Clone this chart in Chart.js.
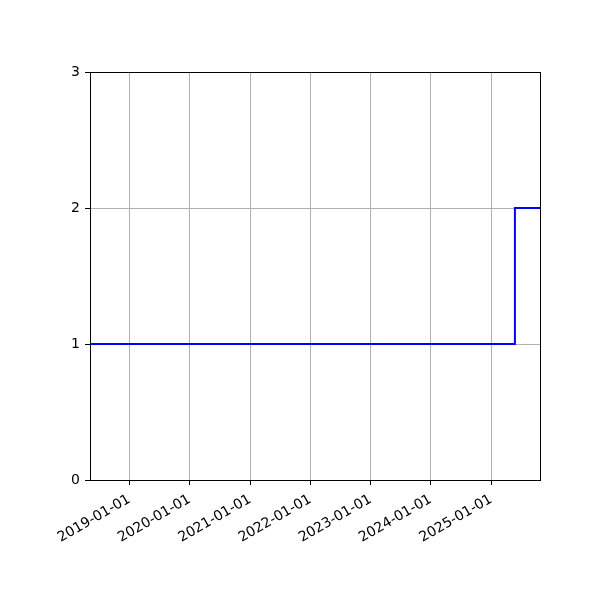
<!DOCTYPE html>
<html>
<head>
<meta charset="utf-8">
<script src="https://cdn.jsdelivr.net/npm/chart.js@4"></script>
<style>
  html, body { margin: 0; padding: 0; background: #fff; }
  #wrap { width: 600px; height: 600px; }
</style>
</head>
<body>
<div id="wrap"><canvas id="c"></canvas></div>
<script>
// step series
const stepDates = ['2018-05-07', '2025-05-25', '2025-10-24'];
const stepValues = [1, 2, 2];
const xTickDates = ['2019-01-01', '2020-01-01', '2021-01-01', '2022-01-01', '2023-01-01', '2024-01-01', '2025-01-01'];
const yTicks = [0, 1, 2, 3];

const toMs = s => Date.parse(s + 'T00:00:00Z');
const fmt = v => new Date(v).toISOString().slice(0, 10);

const points = stepDates.map((d, i) => ({ x: toMs(d), y: stepValues[i] }));

// top and right spines
const frame = {
    id: 'frame',
    afterDraw(chart) {
        const a = chart.chartArea;
        const ctx = chart.ctx;
        ctx.save();
        ctx.strokeStyle = '#000';
        ctx.lineWidth = 1;
        ctx.strokeRect(Math.round(a.left) + 0.5, Math.round(a.top) + 0.5, Math.round(a.right - a.left), Math.round(a.bottom - a.top));
        ctx.restore();
    }
};

Chart.defaults.font.family = 'DejaVu Sans';
Chart.defaults.font.size = 14;
Chart.defaults.color = '#000';

new Chart(document.getElementById('c'), {
    type: 'line',
    data: {
        datasets: [{
            data: points,
            borderColor: '#0000ff',
            borderWidth: 2,
            stepped: true,
            pointRadius: 0,
            fill: false
        }]
    },
    options: {
        responsive: true,
        maintainAspectRatio: false,
        animation: false,
        layout: { padding: { top: 72, right: 60, left: 0, bottom: 0 } },
        plugins: {
            legend: { display: false },
            tooltip: { enabled: false }
        },
        scales: {
            x: {
                type: 'linear',
                min: toMs(stepDates[0]),
                max: toMs(stepDates[stepDates.length - 1]),
                afterBuildTicks: s => { s.ticks = xTickDates.map(d => ({ value: toMs(d) })); },
                afterFit: s => { s.height = 120; },
                border: { display: false },
                grid: { color: '#b0b0b0', lineWidth: 1, tickColor: '#000', tickLength: 5 },
                ticks: {
                    autoSkip: false,
                    minRotation: 30,
                    maxRotation: 30,
                    padding: 6,
                    callback: v => fmt(v)
                }
            },
            y: {
                min: 0,
                max: 3,
                afterBuildTicks: s => { s.ticks = yTicks.map(v => ({ value: v })); },
                afterFit: s => { s.width = 90; },
                border: { display: false },
                grid: { color: '#b0b0b0', lineWidth: 1, tickColor: '#000', tickLength: 5 },
                ticks: { padding: 5 }
            }
        }
    },
    plugins: [frame]
});
</script>
</body>
</html>
